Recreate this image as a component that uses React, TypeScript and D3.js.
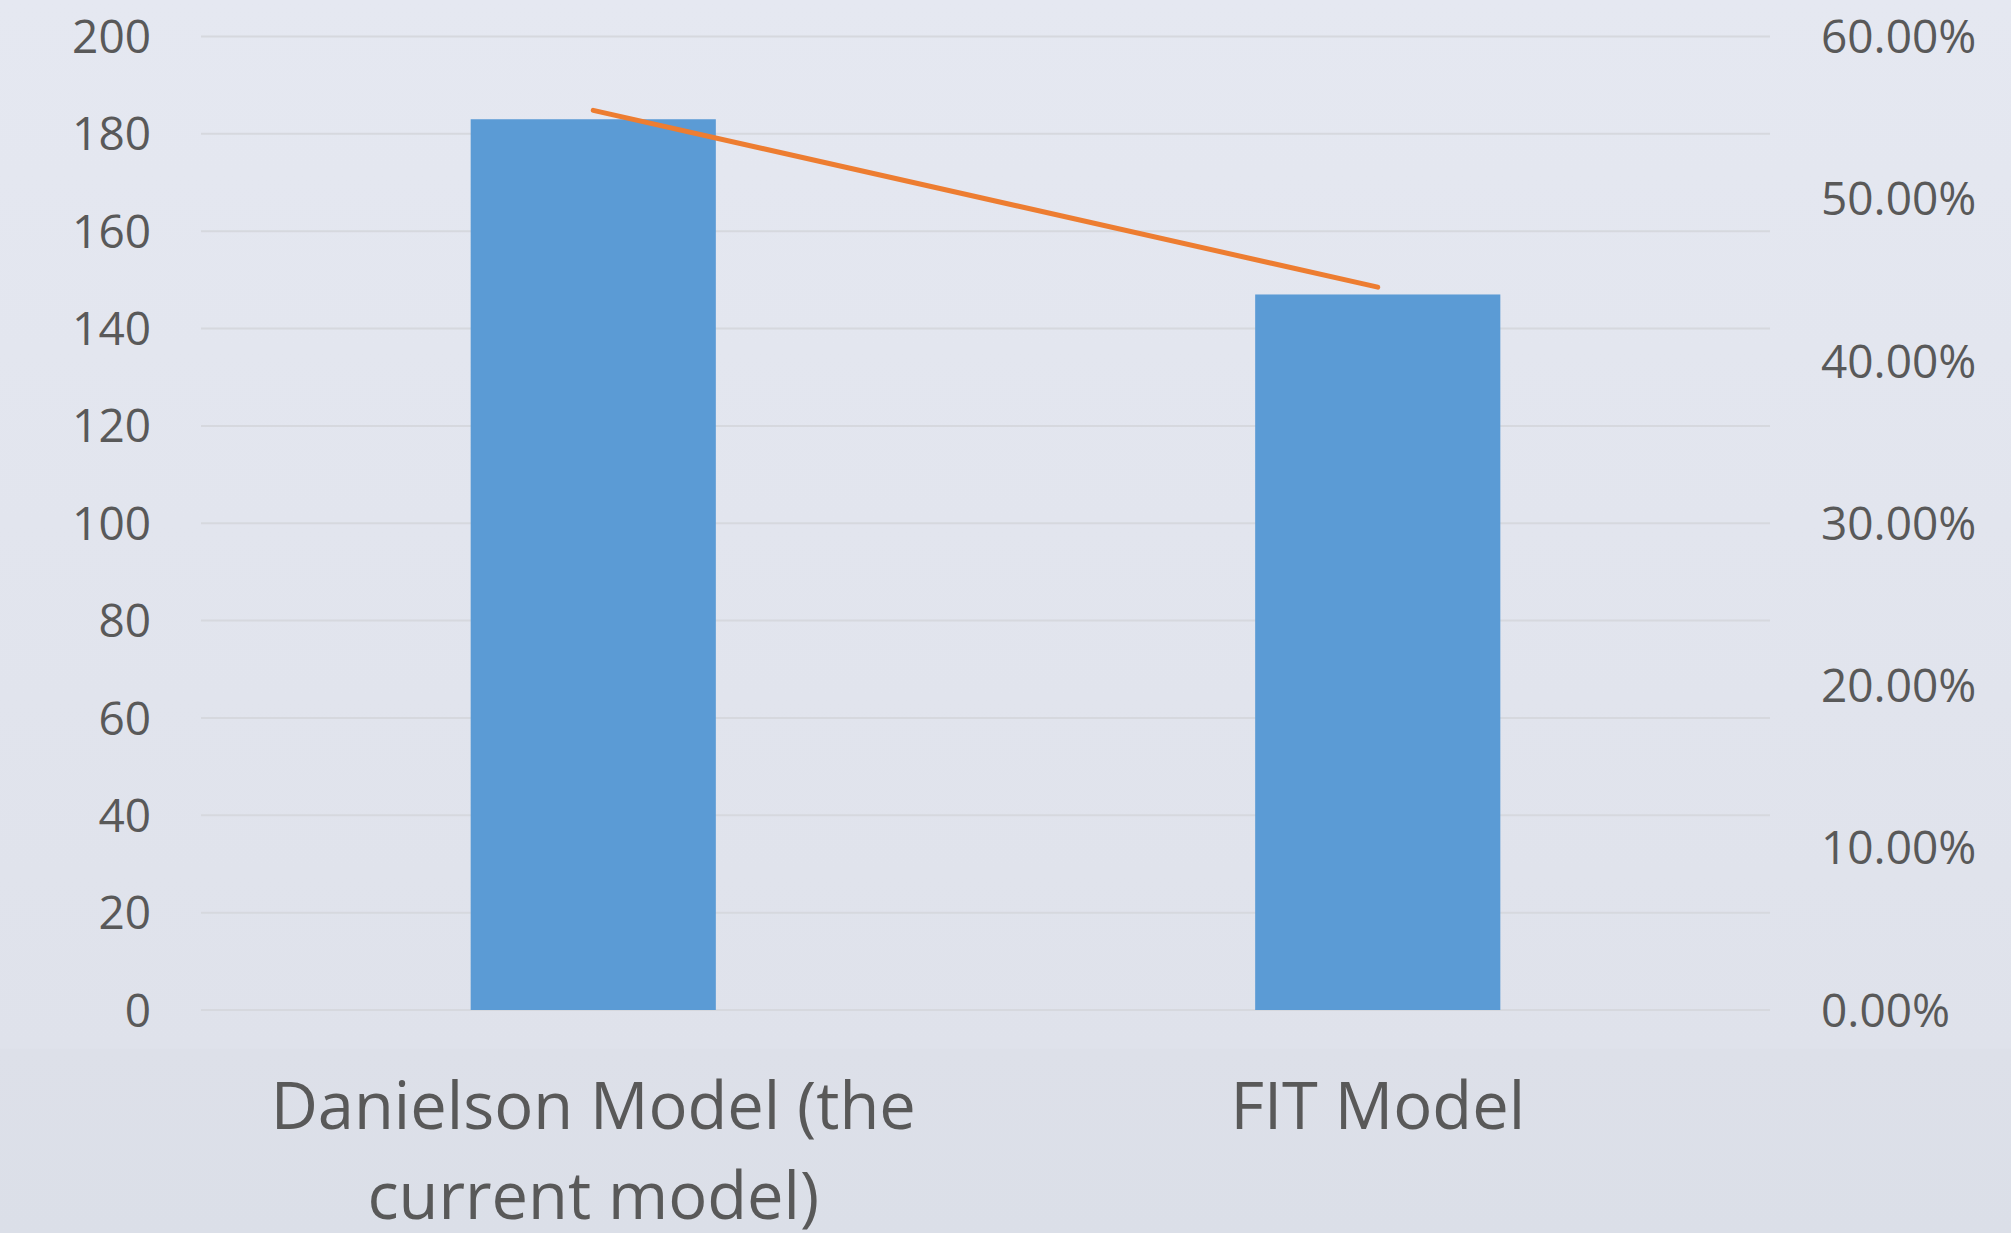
import React, { useEffect } from 'react';
import * as d3 from 'd3';

// chart data
const categories = ['Danielson Model (the current model)', 'FIT Model'];
const categoryLines = [['Danielson Model (the', 'current model)'], ['FIT Model']];
const counts = [183, 147];
const shares = [0.5545, 0.4455];
const leftTicks = [0, 20, 40, 60, 80, 100, 120, 140, 160, 180, 200];
const rightTicks = [0, 0.1, 0.2, 0.3, 0.4, 0.5, 0.6];

const W = 2011;
const H = 1233;
const margin = { top: 36.5, right: 241, bottom: 223, left: 201 };

const FONT = '"Open Sans", "Noto Sans", sans-serif';
const TEXT = '#595959';

const App: React.FC = () => {
    useEffect(() => {
        document.body.style.margin = '0';
    }, []);

    const x = d3.scaleBand<string>()
        .domain(categories)
        .range([margin.left, W - margin.right])
        .paddingInner(0)
        .paddingOuter(0);
    const barW = x.bandwidth() * 0.3125;

    const yL = d3.scaleLinear().domain([0, 200]).range([H - margin.bottom, margin.top]);
    const yR = d3.scaleLinear().domain([0, 0.6]).range([H - margin.bottom, margin.top]);

    const cx = (c: string) => (x(c) ?? 0) + x.bandwidth() / 2;

    const line = d3.line<number>()
        .x((_, i) => cx(categories[i]))
        .y(d => yR(d));

    const pct = d3.format('.2%');

    return (
        <svg width={W} height={H} style={{ display: 'block' }} fontFamily={FONT}>
            <defs>
                <linearGradient id="bg" x1="0" y1="0" x2="0" y2="1">
                    <stop offset="0" stopColor="#e5e8f1" />
                    <stop offset="0.85" stopColor="#dfe2eb" />
                    <stop offset="0.851" stopColor="#dde0e9" />
                    <stop offset="1" stopColor="#dbdfe8" />
                </linearGradient>
            </defs>
            <rect width={W} height={H} fill="url(#bg)" />

            {/* gridlines */}
            {leftTicks.map(t => (
                <line key={t}
                    x1={margin.left} x2={W - margin.right}
                    y1={yL(t)} y2={yL(t)}
                    stroke="#d6d8de" strokeWidth={2} />
            ))}

            {/* bars */}
            {categories.map((c, i) => (
                <rect key={c}
                    x={cx(c) - barW / 2}
                    y={yL(counts[i])}
                    width={barW}
                    height={yL(0) - yL(counts[i])}
                    fill="#5b9bd5" />
            ))}

            {/* share line */}
            <path d={line(shares) ?? ''} fill="none" stroke="#ed7d31"
                strokeWidth={5} strokeLinecap="round" strokeLinejoin="round" />

            {/* left axis */}
            {leftTicks.map(t => (
                <text key={t} x={151} y={yL(t)} dy="0.36em" textAnchor="end"
                    fontSize={46} fill={TEXT}>{t}</text>
            ))}

            {/* right axis */}
            {rightTicks.map(t => (
                <text key={t} x={1821} y={yR(t)} dy="0.36em" textAnchor="start"
                    fontSize={46} fill={TEXT}>{pct(t)}</text>
            ))}

            {/* category labels */}
            {categories.map((c, i) => (
                <text key={c} x={cx(c)} y={1129} textAnchor="middle" fontSize={65} fill={TEXT}>
                    {categoryLines[i].map((s, j) => (
                        <tspan key={j} x={cx(c)} dy={j === 0 ? 0 : 90}>{s}</tspan>
                    ))}
                </text>
            ))}
        </svg>
    );
};

export default App;
